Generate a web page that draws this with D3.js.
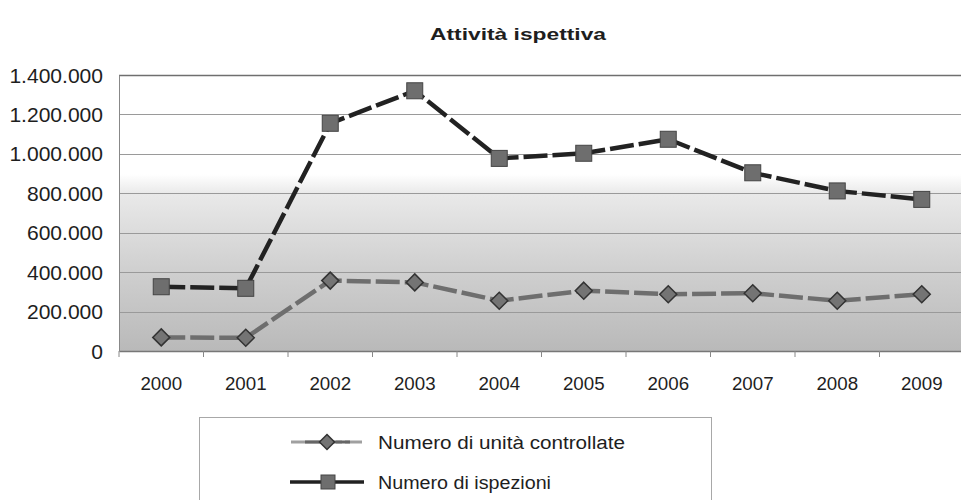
<!DOCTYPE html>
<html>
<head>
<meta charset="utf-8">
<script src="https://cdn.jsdelivr.net/npm/d3@7"></script>
<style>
  html, body { margin: 0; padding: 0; background: #fff; }
  svg { display: block; font-family: "Liberation Sans", Arial, sans-serif; }
</style>
</head>
<body>
<svg id="chart" width="961" height="500"></svg>
<script>
// ---- data ----
const years = ["2000","2001","2002","2003","2004","2005","2006","2007","2008","2009"];
const unitaControllate = [69000, 67000, 357000, 348000, 255000, 306000, 288000, 293000, 255000, 288000];
const ispezioni = [326000, 318000, 1155000, 1320000, 977000, 1003000, 1074000, 904000, 812000, 769000];
const yTicks = [0, 200000, 400000, 600000, 800000, 1000000, 1200000, 1400000];
const title = "Attività ispettiva";
const seriesNames = ["Numero di unità controllate", "Numero di ispezioni"];

// ---- layout ----
const W = 961, H = 500;
const plot = { left: 119, right: 964, top: 75, bottom: 351 };

const svg = d3.select("#chart");
const defs = svg.append("defs");
const grad = defs.append("linearGradient").attr("id", "bg")
  .attr("x1", 0).attr("y1", 0).attr("x2", 0).attr("y2", 1);
[[0, "#ffffff"], [0.36, "#ffffff"], [0.43, "#e9e9e9"], [0.7, "#d0d0d0"], [1, "#b9b9b9"]]
  .forEach(([o, c]) => grad.append("stop").attr("offset", o).attr("stop-color", c));

const x = d3.scaleBand().domain(years).range([plot.left, plot.right]).padding(0);
const y = d3.scaleLinear().domain([0, 1400000]).range([plot.bottom, plot.top]);
const it = d3.formatLocale({ decimal: ",", thousands: ".", grouping: [3], currency: ["€", ""] });
const fmt = it.format(",d");

// plot background
svg.append("rect")
  .attr("x", plot.left).attr("y", plot.top)
  .attr("width", plot.right - plot.left).attr("height", plot.bottom - plot.top)
  .attr("fill", "url(#bg)");

// gridlines
svg.append("g").selectAll("line").data(yTicks.slice(1)).join("line")
  .attr("x1", plot.left).attr("x2", plot.right)
  .attr("y1", d => Math.round(y(d)) + 0.5).attr("y2", d => Math.round(y(d)) + 0.5)
  .attr("stroke", d => d === 1400000 ? "#6f6f6f" : "#9a9a9a")
  .attr("stroke-width", d => d === 1400000 ? 1.5 : 1);

// y axis
const sy = 1.08;
const yAxis = svg.append("g").attr("transform", `translate(${plot.left},0)`)
  .call(d3.axisLeft(y).tickValues(yTicks).tickFormat(fmt).tickSize(0).tickPadding(16));
yAxis.select(".domain").attr("stroke", "#888").attr("stroke-width", 1);
yAxis.selectAll("text")
  .attr("font-family", '"Liberation Sans", Arial, sans-serif')
  .attr("font-size", 19.5).attr("fill", "#1e1e1e")
  .attr("x", -16 / sy)
  .attr("transform", `scale(${sy},1)`)
  .attr("dy", "0.36em");

// x axis
const xAxis = svg.append("g").attr("transform", `translate(0,${plot.bottom})`)
  .call(d3.axisBottom(x).tickSize(0).tickPadding(0));
xAxis.select(".domain").attr("stroke", "#777").attr("stroke-width", 1.5);
xAxis.selectAll("text")
  .attr("font-family", '"Liberation Sans", Arial, sans-serif')
  .attr("font-size", 18).attr("fill", "#1e1e1e")
  .attr("y", 39).attr("dy", 0)
  .attr("transform", "scale(1.04,1)")
  .attr("x", 0);
xAxis.selectAll(".tick").each(function(d) {
  const cx = x(d) + x.bandwidth() / 2;
  d3.select(this).attr("transform", `translate(${cx},0)`);
});
// category boundary ticks
svg.append("g").selectAll("line").data(years.concat(["end"])).join("line")
  .attr("x1", (d, i) => plot.left + i * x.bandwidth())
  .attr("x2", (d, i) => plot.left + i * x.bandwidth())
  .attr("y1", plot.bottom).attr("y2", plot.bottom + 6)
  .attr("stroke", "#888").attr("stroke-width", 1);

// title
svg.append("text")
  .attr("x", 518).attr("y", 40)
  .attr("text-anchor", "middle")
  .attr("font-size", 17).attr("font-weight", "bold").attr("fill", "#1e1e1e")
  .attr("textLength", 176).attr("lengthAdjust", "spacingAndGlyphs")
  .text(title);

// lines
const line = d3.line().x((d, i) => x(years[i]) + x.bandwidth() / 2).y(d => y(d));
svg.append("path").datum(unitaControllate)
  .attr("d", line).attr("fill", "none")
  .attr("stroke", "#6e6e6e").attr("stroke-width", 4.5)
  .attr("stroke-dasharray", "24,5");
svg.append("path").datum(ispezioni)
  .attr("d", line).attr("fill", "none")
  .attr("stroke", "#222").attr("stroke-width", 4.5)
  .attr("stroke-dasharray", "24,5");

// markers
svg.append("g").selectAll("path").data(unitaControllate).join("path")
  .attr("d", "M0,-8.5L8.5,0L0,8.5L-8.5,0Z")
  .attr("transform", (d, i) => `translate(${x(years[i]) + x.bandwidth() / 2},${y(d)})`)
  .attr("fill", "#747474").attr("stroke", "#333").attr("stroke-width", 1.5);
svg.append("g").selectAll("rect").data(ispezioni).join("rect")
  .attr("x", (d, i) => x(years[i]) + x.bandwidth() / 2 - 8)
  .attr("y", d => y(d) - 8)
  .attr("width", 16).attr("height", 16)
  .attr("fill", "#6e6e6e").attr("stroke", "#444").attr("stroke-width", 1);

// legend
const lg = svg.append("g");
lg.append("rect").attr("x", 199.5).attr("y", 417.5).attr("width", 512).attr("height", 100)
  .attr("fill", "#fff").attr("stroke", "#a8a8a8").attr("stroke-width", 1);
const ly = [442, 482];
// entry 1
lg.append("line").attr("x1", 291).attr("x2", 362).attr("y1", ly[0]).attr("y2", ly[0])
  .attr("stroke", "#a0a0a0").attr("stroke-width", 3).attr("stroke-dasharray", "40,5,6,3");
lg.append("line").attr("x1", 305).attr("x2", 350).attr("y1", ly[0]).attr("y2", ly[0])
  .attr("stroke", "#666").attr("stroke-width", 3);
lg.append("path").attr("d", "M0,-7.5L7.5,0L0,7.5L-7.5,0Z")
  .attr("transform", `translate(327,${ly[0]})`)
  .attr("fill", "#747474").attr("stroke", "#333").attr("stroke-width", 1.5);
// entry 2
lg.append("line").attr("x1", 290).attr("x2", 364).attr("y1", ly[1]).attr("y2", ly[1])
  .attr("stroke", "#222").attr("stroke-width", 3.5);
lg.append("rect").attr("x", 321).attr("y", ly[1] - 7).attr("width", 14).attr("height", 14)
  .attr("fill", "#6e6e6e").attr("stroke", "#444").attr("stroke-width", 1);
lg.selectAll("text.lt").data(seriesNames).join("text")
  .attr("class", "lt")
  .attr("x", 378).attr("y", (d, i) => ly[i] + 6.5)
  .attr("font-size", 18).attr("fill", "#1e1e1e")
  .text(d => d)
  .each(function(d, i) {
    const len = i === 0 ? 247 : 173;
    d3.select(this).attr("textLength", len).attr("lengthAdjust", "spacingAndGlyphs");
  });
</script>
</body>
</html>
